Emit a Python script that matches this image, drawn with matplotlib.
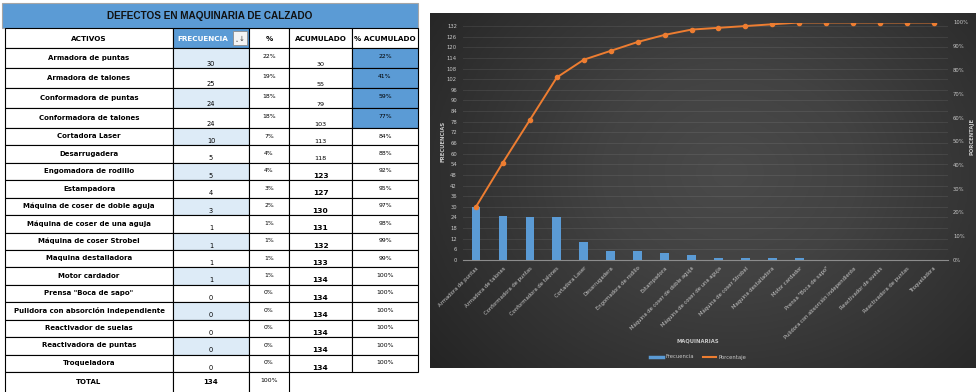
import numpy as np
import matplotlib
matplotlib.use("Agg")
import matplotlib.pyplot as plt
from matplotlib.patches import Rectangle
from matplotlib.colors import LinearSegmentedColormap
from matplotlib.lines import Line2D
from matplotlib.ticker import PercentFormatter

W, H = 976, 392

# Datos de la tabla de defectos
activos = [
    "Armadora de puntas", "Armadora de talones", "Conformadora de puntas",
    "Conformadora de talones", "Cortadora Laser", "Desarrugadera",
    "Engomadora de rodillo", "Estampadora", "Máquina de coser de doble aguja",
    "Máquina de coser de una aguja", "Máquina de coser Strobel",
    "Maquina destalladora", "Motor cardador", 'Prensa "Boca de sapo"',
    "Pulidora con absorción independiente", "Reactivador de suelas",
    "Reactivadora de puntas", "Troqueladora",
]
frecuencia = [30, 25, 24, 24, 10, 5, 5, 4, 3, 1, 1, 1, 1, 0, 0, 0, 0, 0]
encabezados = ["ACTIVOS", "FRECUENCIA", "%", "ACUMULADO", "% ACUMULADO"]
titulo = "DEFECTOS EN MAQUINARIA DE CALZADO"

total = sum(frecuencia)
acumulado = np.cumsum(frecuencia)
porc = [round(f / total * 100) for f in frecuencia]
porc_acum = acumulado / total

AZUL = "#5B9BD5"
AZUL_CLARO = "#DDEBF7"
NARANJA = "#ED7D31"
GRIS_TXT = "#c8c8c8"


def box(x0, y0, x1, y1):
    # pixel box -> figure fraction
    return [x0 / W, 1 - y1 / H, (x1 - x0) / W, (y1 - y0) / H]


fig = plt.figure(figsize=(W / 100, H / 100), dpi=100)
base = fig.add_axes([0, 0, 1, 1])
base.axis("off")

# ---------------- tabla ----------------
cols = [5, 173, 249, 289, 352, 418]
xc = [(cols[i] + cols[i + 1]) / 2 for i in range(5)]
edges = [48, 68, 88, 108, 128] + [128 + 244 / 14 * k for k in range(1, 15)]


def cell(x0, y0, x1, y1, face="white", edge="black", lw=0.8):
    base.add_patch(Rectangle((x0, y0), x1 - x0, y1 - y0, facecolor=face,
                             edgecolor=edge, lw=lw, zorder=2))


cell(2, 3, 418, 28, face=AZUL, edge="#a6a6a6")
base.text(210, 16, titulo, ha="center", va="center", fontsize=7.2,
          fontweight="bold", family="Liberation Sans", color="#111111", zorder=3)

for i, h in enumerate(encabezados):
    cell(cols[i], 28, cols[i + 1], 48, face=AZUL if i == 1 else "white")
    if i == 1:
        base.text(177, 38.5, h, ha="left", va="center", fontsize=5.2,
                  fontweight="bold", color="white", zorder=3)
    else:
        base.text(xc[i], 38.5, h, ha="center", va="center", fontsize=5.2,
                  fontweight="bold", color="black", zorder=3)
# boton de filtro
base.add_patch(Rectangle((233, 31), 14, 14, facecolor="#f4f4f4",
                         edgecolor="#8c8c8c", lw=0.6, zorder=4))
base.text(241.5, 38.5, "↓", ha="center", va="center", fontsize=5,
          color="#404040", zorder=5)
base.text(237, 40, "⌄", ha="center", va="center", fontsize=3.5,
          color="#404040", zorder=5)

for k, nombre in enumerate(activos):
    y0, y1 = edges[k], edges[k + 1]
    ym = (y0 + y1) / 2
    cell(cols[0], y0, cols[1], y1)
    cell(cols[1], y0, cols[2], y1, face=AZUL_CLARO if k % 2 == 0 else "white")
    cell(cols[2], y0, cols[3], y1)
    cell(cols[3], y0, cols[4], y1)
    cell(cols[4], y0, cols[5], y1, face=AZUL if k < 4 else "white")

    base.text(xc[0], ym - 0.5, nombre, ha="center", va="center", fontsize=5,
              fontweight="bold", color="black", zorder=3)
    base.text(xc[1], y1 - 1.5, str(frecuencia[k]), ha="center", va="bottom",
              fontsize=4.8, color="black", zorder=3)
    base.text(xc[2], y0 + 8, f"{porc[k]}%", ha="center", va="center",
              fontsize=4.4, color="black", zorder=3)
    if k < 6:
        base.text(xc[3], y1 - 1.5, str(acumulado[k]), ha="center",
                  va="bottom", fontsize=4.6, color="black", zorder=3)
    else:
        base.text(xc[3], y1 - 1.5, str(acumulado[k]), ha="center",
                  va="bottom", fontsize=5.4, fontweight="bold",
                  color="black", zorder=3)
    base.text(xc[4], y0 + 8, f"{round(porc_acum[k] * 100)}%", ha="center",
              va="center", fontsize=4.4, color="black", zorder=3)

yt0, yt1 = edges[-1], 393
cell(cols[0], yt0, cols[1], yt1)
cell(cols[1], yt0, cols[2], yt1)
cell(cols[2], yt0, cols[3], yt1)
base.text(xc[0], yt0 + 10, "TOTAL", ha="center", va="center", fontsize=5,
          fontweight="bold", zorder=3)
base.text(xc[1], yt0 + 10, str(total), ha="center", va="center", fontsize=5,
          fontweight="bold", zorder=3)
base.text(xc[2], yt0 + 8, "100%", ha="center", va="center", fontsize=4.4,
          zorder=3)

# ---------------- fondo del grafico ----------------
px0, py0, px1, py1 = 430, 13, 976, 368
yy, xx = np.mgrid[0:1:200j, 0:1:300j]
d = np.sqrt((xx - 0.55) ** 2 + ((yy - 0.45) * 0.8) ** 2)
d = d / d.max()
cmap = LinearSegmentedColormap.from_list(
    "panel", ["#4a4a4a", "#424242", "#333333", "#242424"])
base.imshow(d, extent=[px0, px1, py1, py0], cmap=cmap, aspect="auto",
            zorder=0, interpolation="bilinear")
base.set_xlim(0, W)
base.set_ylim(H, 0)

# ---------------- diagrama de Pareto ----------------
ax = fig.add_axes(box(462.5, 22.5, 947.5, 260))
ax.patch.set_alpha(0)
x = np.arange(len(activos))
ax.bar(x, frecuencia, width=0.32, color=AZUL, zorder=3)
ax.set_xlim(-0.5, len(activos) - 0.5)
ax.set_ylim(0, total)
ax.set_yticks(range(0, 133, 6))
ax.yaxis.grid(True, color="white", alpha=0.08, lw=0.8)
ax.set_axisbelow(True)
ax.set_xticks(x)
ax.set_xticklabels(activos, rotation=45, ha="right", rotation_mode="anchor")
ax.tick_params(axis="both", length=0, labelsize=3.8, labelcolor=GRIS_TXT)
ax.tick_params(axis="x", pad=4)
ax.tick_params(axis="y", pad=4)
for s in ["top", "left", "right"]:
    ax.spines[s].set_visible(False)
ax.spines["bottom"].set_color("#8c8c8c")
ax.spines["bottom"].set_linewidth(0.8)

ax2 = ax.twinx()
ax2.plot(x, porc_acum, color=NARANJA, lw=1.4, marker="o", ms=3, zorder=4)
ax2.set_ylim(0, 1)
ax2.set_yticks(np.linspace(0, 1, 11))
ax2.yaxis.set_major_formatter(PercentFormatter(1, decimals=0))
ax2.tick_params(axis="y", length=0, labelsize=3.8, labelcolor=GRIS_TXT, pad=4)
for s in ax2.spines.values():
    s.set_visible(False)

fig.text(443 / W, 1 - 141 / H, "FRECUENCIAS", rotation=90, ha="center",
         va="center", fontsize=3.8, fontweight="bold", color=GRIS_TXT)
fig.text(972 / W, 1 - 136 / H, "PORCENTAJE", rotation=90, ha="center",
         va="center", fontsize=3.8, fontweight="bold", color=GRIS_TXT)
fig.text(698 / W, 1 - 341 / H, "MAQUINARIAS", ha="center", va="center",
         fontsize=3.8, fontweight="bold", color=GRIS_TXT)

handles = [Line2D([], [], color=AZUL, lw=2.5),
           Line2D([], [], color=NARANJA, lw=1.5)]
fig.legend(handles, ["Frecuencia", "Porcentaje"], loc="center",
           bbox_to_anchor=(698 / W, 1 - 357 / H), ncol=2, frameon=False,
           fontsize=3.8, labelcolor=GRIS_TXT, handlelength=2.6,
           columnspacing=1.6, handletextpad=0.4)

fig.savefig("out.png", dpi=100)
